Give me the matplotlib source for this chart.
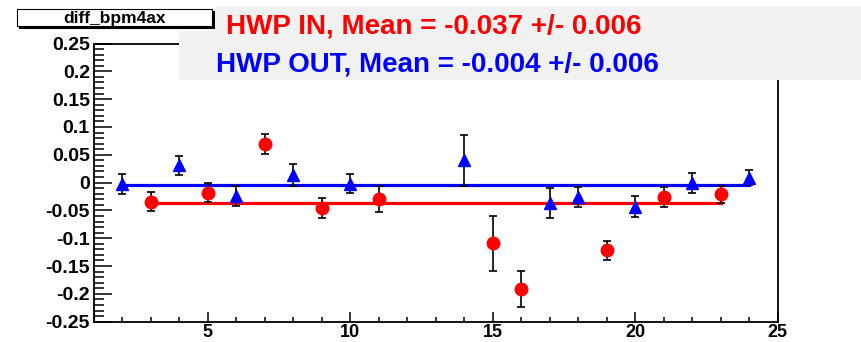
import matplotlib
matplotlib.use("Agg")
import matplotlib.pyplot as plt
from matplotlib.patches import Rectangle
from matplotlib.ticker import MultipleLocator

# ---- data ----
run_out = [2, 4, 6, 8, 10, 14, 17, 18, 20, 22, 24]
val_out = [-0.002, 0.031, -0.024, 0.013, -0.002, 0.040, -0.037, -0.026, -0.043, -0.001, 0.009]
err_out = [0.018, 0.017, 0.018, 0.020, 0.017, 0.046, 0.027, 0.018, 0.019, 0.018, 0.014]

run_in = [3, 5, 7, 9, 11, 15, 16, 19, 21, 23]
val_in = [-0.034, -0.018, 0.070, -0.046, -0.030, -0.109, -0.191, -0.122, -0.026, -0.021]
err_in = [0.017, 0.017, 0.018, 0.018, 0.023, 0.049, 0.032, 0.017, 0.018, 0.015]

mean_in = -0.037
mean_out = -0.004
fit_in_range = [3, 23]
fit_out_range = [2, 24]

title = "diff_bpm4ax"
label_in = "HWP IN, Mean = -0.037 +/- 0.006"
label_out = "HWP OUT, Mean = -0.004 +/- 0.006"
x_ticks = [5, 10, 15, 20, 25]
y_ticks = [-0.25, -0.2, -0.15, -0.1, -0.05, 0, 0.05, 0.1, 0.15, 0.2, 0.25]
y_ticklabels = ["-0.25", "-0.2", "-0.15", "-0.1", "-0.05", "0", "0.05", "0.1", "0.15", "0.2", "0.25"]

plt.rcParams['font.family'] = ['Liberation Sans', 'DejaVu Sans']

W, H = 861, 342
fig = plt.figure(figsize=(W / 100, H / 100), dpi=100)
fig.patch.set_facecolor('white')

L, R, T, B = 94, 777.5, 43.5, 321.7
ax = fig.add_axes([L / W, 1 - B / H, (R - L) / W, (B - T) / H])

# fit lines
ax.plot(fit_out_range, [mean_out, mean_out], color='#0000ff', lw=2.3, zorder=2)
ax.plot(fit_in_range, [mean_in, mean_in], color='#ff0000', lw=2.3, zorder=2)

# data with error bars
ax.errorbar(run_in, val_in, yerr=err_in, fmt='o', color='#ff0000', ms=9,
            ecolor='black', elinewidth=1.2, capsize=3, capthick=1.2, zorder=3)
ax.errorbar(run_out, val_out, yerr=err_out, fmt='^', color='#0000ff', ms=8.5,
            ecolor='black', elinewidth=1.2, capsize=3, capthick=1.2, zorder=3)

ax.set_xlim(1, 25)
ax.set_ylim(-0.25, 0.25)
ax.set_xticks(x_ticks)
ax.set_xticklabels([str(t) for t in x_ticks])
ax.set_yticks(y_ticks)
ax.set_yticklabels(y_ticklabels)
ax.xaxis.set_minor_locator(MultipleLocator(1))
ax.yaxis.set_minor_locator(MultipleLocator(0.01))
ax.tick_params(axis='both', which='both', direction='in', top=False, right=False, width=1.1)
ax.tick_params(axis='x', which='major', length=7, pad=2)
ax.tick_params(axis='x', which='minor', length=3.5)
ax.tick_params(axis='y', which='major', length=13, pad=3)
ax.tick_params(axis='y', which='minor', length=7)
for lab in ax.get_yticklabels():
    lab.set_fontsize(14)
    lab.set_fontweight('bold')
for lab in ax.get_xticklabels():
    lab.set_fontsize(13)
    lab.set_fontweight('bold')
for sp in ax.spines.values():
    sp.set_linewidth(1.3)

# header gray box (covers top of frame)
gx0, gy0, gx1, gy1 = 179, 6, 861, 80
fig.patches.append(Rectangle((gx0 / W, 1 - gy1 / H), (gx1 - gx0) / W, (gy1 - gy0) / H,
                             transform=fig.transFigure, facecolor='#f1f1f1',
                             edgecolor='none', zorder=5))
# white notch behind the title box
fig.patches.append(Rectangle((gx0 / W, 1 - 31 / H), (216 - gx0) / W, 31 / H,
                             transform=fig.transFigure, facecolor='white',
                             edgecolor='none', zorder=5.5))
fig.text(434 / W, 1 - 27 / H, label_in, color='#ff0000', fontsize=20, fontweight='bold',
         ha='center', va='center', zorder=6)
fig.text(437 / W, 1 - 64 / H, label_out, color='#0000ff', fontsize=20, fontweight='bold',
         ha='center', va='center', zorder=6)

# title box with shadow
tx0, ty0, tx1, ty1 = 17, 9, 212, 26
fig.patches.append(Rectangle(((tx0 + 2) / W, 1 - (ty1 + 2) / H), (tx1 - tx0) / W, (ty1 - ty0) / H,
                             transform=fig.transFigure, facecolor='black',
                             edgecolor='black', lw=0.8, zorder=7))
fig.patches.append(Rectangle((tx0 / W, 1 - ty1 / H), (tx1 - tx0) / W, (ty1 - ty0) / H,
                             transform=fig.transFigure, facecolor='white',
                             edgecolor='black', lw=0.8, zorder=8))
fig.text((tx0 + tx1) / 2 / W, 1 - (ty0 + ty1) / 2 / H, title, fontsize=12.5,
         fontweight='bold', ha='center', va='center_baseline', zorder=9)

fig.savefig('out.png', dpi=100)
